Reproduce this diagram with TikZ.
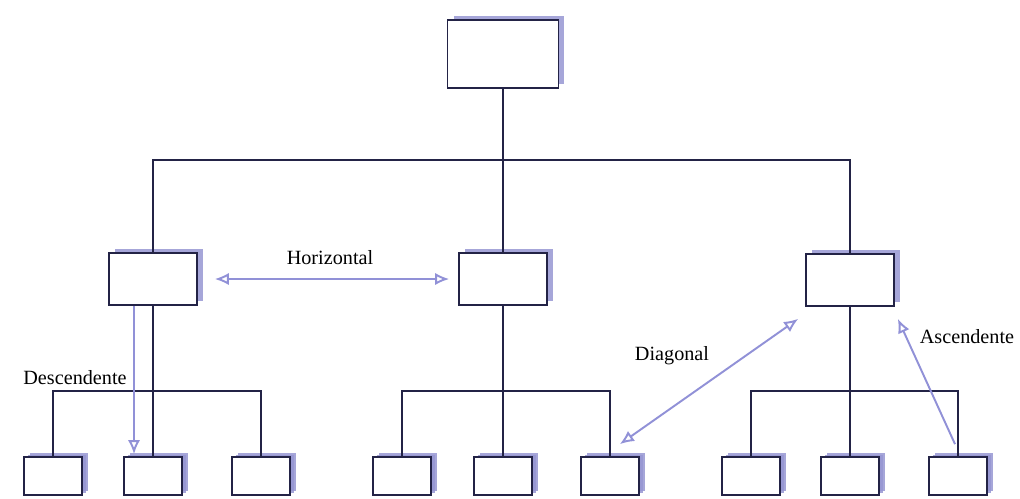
\documentclass[tikz,border=0pt]{standalone}
\usepackage{fontspec}
\setmainfont{Liberation Serif}
\usetikzlibrary{arrows.meta,shadows}
\definecolor{ink}{RGB}{35,35,70}
\definecolor{shade}{RGB}{150,150,210}
\definecolor{flowblue}{RGB}{145,145,215}
\tikzset{
  box/.style={draw=ink, line width=1pt, fill=white, inner sep=0pt,
    drop shadow={shadow xshift=0.12cm, shadow yshift=0.08cm, fill=shade, opacity=0.85}},
  topbox/.style={box, minimum width=2.22cm, minimum height=1.36cm},
  midbox/.style={box, minimum width=1.76cm, minimum height=1.04cm},
  lowbox/.style={box, minimum width=1.16cm, minimum height=0.76cm,
    drop shadow={shadow xshift=0.08cm, shadow yshift=0.05cm, fill=shade, opacity=0.85}},
  link/.style={draw=ink, line width=1pt},
  flow/.style={draw=flowblue, line width=1.1pt, {Latex[open,length=8pt,width=7pt]}-{Latex[open,length=8pt,width=7pt]}},
  oneway/.style={draw=flowblue, line width=1.1pt, -{Latex[open,length=8pt,width=7pt]}},
  tag/.style={font=\fontsize{11.5}{14}\selectfont, text=black}
}
\begin{document}
\begin{tikzpicture}[x=0.02cm,y=-0.02cm]
\useasboundingbox (0,0) rectangle (1020,498);

\node[topbox] (top) at (503,54) {};

\node[midbox] (m1) at (153,279) {};
\node[midbox] (m2) at (503,279) {};
\node[midbox] (m3) at (850,280) {};

\node[lowbox] (b1) at (53,476) {};
\node[lowbox] (b2) at (153,476) {};
\node[lowbox] (b3) at (261,476) {};
\node[lowbox] (b4) at (402,476) {};
\node[lowbox] (b5) at (503,476) {};
\node[lowbox] (b6) at (610,476) {};
\node[lowbox] (b7) at (751,476) {};
\node[lowbox] (b8) at (850,476) {};
\node[lowbox] (b9) at (958,476) {};

\coordinate (bar) at (503,160);

\draw[link] (top.south) -- (m2.north);
\draw[link] (m1.north) |- (bar) -| (m3.north);

\draw[link] (m1.south) -- (b2.north);
\draw[link] (b1.north) -- ++(0,-65) -| (b3.north);
\draw[link] (m2.south) -- (b5.north);
\draw[link] (b4.north) -- ++(0,-65) -| (b6.north);
\draw[link] (m3.south) -- (b8.north);
\draw[link] (b7.north) -- ++(0,-65) -| (b9.north);

\draw[oneway] ([xshift=-0.38cm]m1.south) -- ([xshift=-0.38cm,yshift=0.04cm]m1.south |- b2.north);
\draw[flow] ([xshift=0.34cm]m1.east) -- ([xshift=-0.18cm]m2.west);
\draw[flow] ([xshift=-0.4cm,yshift=0.24cm]b6.north east) -- ([xshift=-0.14cm,yshift=-0.24cm]m3.south west);
\draw[oneway] ([xshift=-0.06cm,yshift=0.24cm]b9.north) -- ([xshift=0.06cm,yshift=-0.24cm]m3.south east);

\node[tag] (lh) at (330,258) {Horizontal};
\node[tag] (ld) at (75,378) {Descendente};
\node[tag] (lg) at (672,356) {Diagonal};
\node[tag] (la) at (967,337) {Ascendente};
\end{tikzpicture}
\end{document}
